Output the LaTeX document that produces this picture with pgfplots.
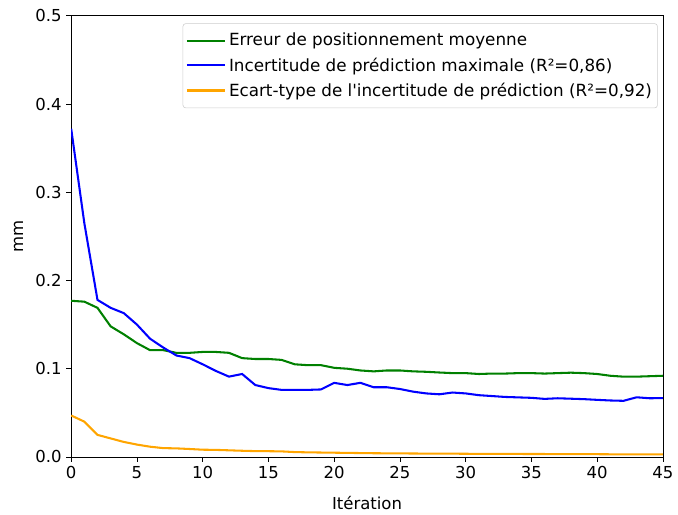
\documentclass[border=0pt]{standalone}
\usepackage{pgfplots}
\pgfplotsset{compat=1.18}
\usepackage{fontspec}
\setmainfont{DejaVu Sans}
\definecolor{mplgreen}{RGB}{0,128,0}
\definecolor{mplblue}{RGB}{0,0,255}
\definecolor{mplorange}{RGB}{255,165,0}
\begin{document}
\begin{tikzpicture}
\begin{axis}[
    scale only axis,
    width=430.6pt, height=321pt,
    xmin=0, xmax=45, ymin=0, ymax=0.5,
    xtick={0,5,...,45}, ytick={0,0.1,...,0.5},
    tick align=outside, tick pos=left,
    major tick length=3.5pt,
    tick style={black, line width=0.6pt},
    axis line style={line width=0.6pt},
    /pgf/number format/assume math mode=true,
    yticklabel style={/pgf/number format/.cd, fixed, fixed zerofill, precision=1},
    xlabel={Itération}, ylabel={mm},
    xlabel style={yshift=-5.5pt},
    ylabel style={yshift=2pt},
    legend style={at={(1,1)}, xshift=-3.8pt, yshift=-5.5pt, anchor=north east,
      draw=black!20, rounded corners=2pt,
      font=\fontsize{12.2pt}{14pt}\selectfont,
      row sep=3pt, inner xsep=2pt, inner ysep=5pt,
      /tikz/every even column/.append style={column sep=8pt}},
    legend cell align=left,
    legend image code/.code={\draw[mark repeat=2,mark phase=2,#1]
      plot coordinates {(0pt,0pt)(14pt,0pt)(28pt,0pt)};},
    every axis plot/.append style={line width=1.5pt},
    ticklabel style={font=\fontsize{12pt}{14pt}\selectfont},
    label style={font=\fontsize{12pt}{14pt}\selectfont},
  ]
\addplot[mplgreen] coordinates {
  (0,0.177)(1,0.176)(2,0.169)(3,0.148)(4,0.139)(5,0.129)(6,0.121)(7,0.121)
  (8,0.118)(9,0.118)(10,0.119)(11,0.119)(12,0.118)(13,0.112)(14,0.111)
  (15,0.111)(16,0.110)(17,0.105)(18,0.104)(19,0.104)(20,0.101)(21,0.100)
  (22,0.098)(23,0.097)(24,0.098)(25,0.098)(26,0.097)(27,0.0965)(28,0.0957)
  (29,0.095)(30,0.095)(31,0.094)(32,0.0945)(33,0.0945)(34,0.095)(35,0.095)
  (36,0.0945)(37,0.095)(38,0.0955)(39,0.095)(40,0.094)(41,0.092)(42,0.091)
  (43,0.091)(44,0.0915)(45,0.092)
};
\addlegendentry{Erreur de positionnement moyenne}
\addplot[mplblue] coordinates {
  (0,0.372)(1,0.265)(2,0.178)(3,0.169)(4,0.163)(5,0.150)(6,0.134)(7,0.124)
  (8,0.115)(9,0.112)(10,0.105)(11,0.0975)(12,0.091)(13,0.094)(14,0.0815)
  (15,0.078)(16,0.076)(17,0.076)(18,0.076)(19,0.0765)(20,0.084)(21,0.0815)
  (22,0.084)(23,0.079)(24,0.079)(25,0.077)(26,0.074)(27,0.072)(28,0.071)
  (29,0.073)(30,0.072)(31,0.070)(32,0.069)(33,0.068)(34,0.0675)(35,0.067)
  (36,0.0658)(37,0.0665)(38,0.066)(39,0.0655)(40,0.0647)(41,0.064)(42,0.0636)
  (43,0.0676)(44,0.0665)(45,0.0667)
};
\addlegendentry{Incertitude de prédiction maximale (R²=0,86)}
\addplot[mplorange] coordinates {
  (0,0.047)(1,0.040)(2,0.025)(3,0.021)(4,0.017)(5,0.014)(6,0.0116)(7,0.010)
  (8,0.0097)(9,0.009)(10,0.0082)(11,0.008)(12,0.0075)(13,0.007)(14,0.0066)
  (15,0.0065)(16,0.0063)(17,0.0055)(18,0.0052)(19,0.005)(20,0.0048)(21,0.0046)
  (22,0.0044)(23,0.0042)(24,0.0041)(25,0.004)(26,0.0039)(27,0.0038)(28,0.0037)
  (29,0.0037)(30,0.0036)(31,0.0035)(32,0.0035)(33,0.0034)(34,0.0034)(35,0.0033)
  (36,0.0033)(37,0.0032)(38,0.0032)(39,0.0031)(40,0.0031)(41,0.003)(42,0.003)
  (43,0.003)(44,0.003)(45,0.003)
};
\addlegendentry{Ecart-type de l\textquotesingle incertitude de prédiction (R²=0,92)}
\end{axis}
\path (current axis.south west) ++(-51.8pt,-36pt) coordinate (bbsw);
\path (current axis.north east) ++(5.8pt,11.5pt) coordinate (bbne);
\path[use as bounding box] (bbsw) rectangle (bbne);
\end{tikzpicture}
\end{document}
